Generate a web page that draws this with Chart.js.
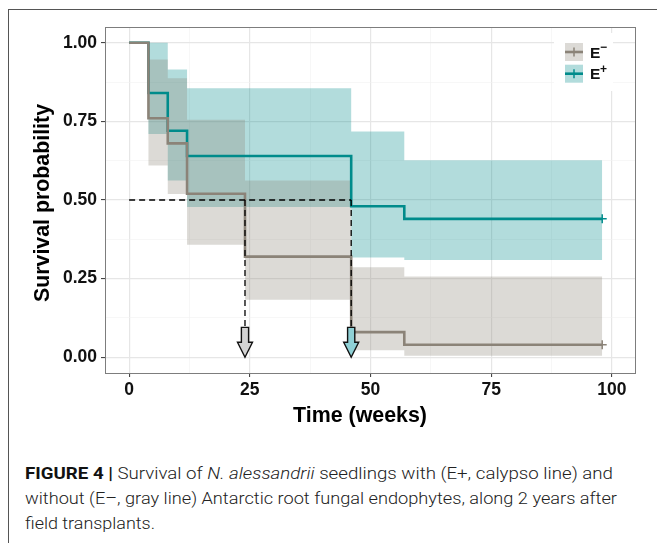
<!DOCTYPE html>
<html>
<head>
<meta charset="utf-8">
<script src="https://cdn.jsdelivr.net/npm/chart.js@4.4.1/dist/chart.umd.min.js"></script>
<style>
  html, body { margin: 0; padding: 0; background: #fff; }
  body { width: 657px; height: 543px; position: relative; overflow: hidden; font-family: "Liberation Sans", Arial, sans-serif; }
  #frame { position: absolute; left: 8px; top: 9px; width: 700px; height: 600px; border-left: 1px solid #555; border-top: 1px solid #555; }
  #c { position: absolute; left: 0; top: 0; }
  .cap { position: absolute; left: 25px; white-space: nowrap; font-family: Roboto, "Liberation Sans", sans-serif; font-weight: 300; font-size: 17px; line-height: 1; color: #222; transform-origin: 0 0; }
  .cap b { color: #111; font-weight: 700; }
</style>
</head>
<body>
<div id="frame"></div>
<canvas id="c" width="657" height="440"></canvas>
<div class="cap" id="l1" data-w="588" style="top:465px"><b>FIGURE 4 |</b> Survival of <i>N. alessandrii</i> seedlings with (E+, calypso line) and</div>
<div class="cap" id="l2" data-w="592" style="top:490px">without (E–, gray line) Antarctic root fungal endophytes, along 2 years after</div>
<div class="cap" id="l3" data-w="130" style="top:515px">field transplants.</div>
<script>
// ---------------- data ----------------
const groupLabels = ['E−', 'E+'];
// E− (gray)
const timesMinus  = [0, 4, 8, 12, 24, 46, 57, 98];
const survMinus   = [1.00, 0.76, 0.68, 0.52, 0.32, 0.08, 0.04, 0.04];
const upperMinus  = [1.00, 0.947, 0.887, 0.755, 0.562, 0.286, 0.257, 0.257];
const lowerMinus  = [1.00, 0.610, 0.519, 0.358, 0.183, 0.022, 0.005, 0.005];
// E+ (teal)
const timesPlus   = [0, 4, 8, 12, 46, 57, 98];
const survPlus    = [1.00, 0.84, 0.72, 0.64, 0.48, 0.44, 0.44];
const upperPlus   = [1.00, 1.00, 0.915, 0.855, 0.718, 0.626, 0.626];
const lowerPlus   = [1.00, 0.710, 0.562, 0.478, 0.317, 0.309, 0.309];
// median survival times (E−, E+)
const medianTimes = [24, 46];
const medianLevel = 0.5;
const arrowTop = 0.095;
// axis ticks
const xTicks = [0, 25, 50, 75, 100];
const yTicks = [0, 0.25, 0.5, 0.75, 1.0];
const xGrid = [0, 12.5, 25, 37.5, 50, 62.5, 75, 87.5, 100];
const yGrid = [0, 0.125, 0.25, 0.375, 0.5, 0.625, 0.75, 0.875, 1.0];

// ---------------- styles ----------------
const grayLine = '#8B8378', tealLine = '#008B8B';
const grayBand = 'rgba(139,131,120,0.3)', tealBand = 'rgba(0,139,139,0.3)';
const arrowFills = ['#d3d3d3', '#8fd0d5'];
const FONT = "'Liberation Sans', Arial, sans-serif";

const pts = (xs, ys) => xs.map((x, i) => ({ x: x, y: ys[i] }));
const near = (arr, v) => arr.some(a => Math.abs(a - v) < 1e-6);

const medianMax = Math.max.apply(null, medianTimes);
const dashed = { borderColor: '#000', borderWidth: 1.3, borderDash: [6, 4], pointRadius: 0, fill: false, tension: 0 };

const datasets = [
  Object.assign({ label: 'median', data: [{ x: 0, y: medianLevel }, { x: medianMax, y: medianLevel }] }, dashed),
  Object.assign({ label: 'medianA', data: [{ x: medianTimes[0], y: medianLevel }, { x: medianTimes[0], y: arrowTop }] }, dashed),
  Object.assign({ label: 'medianB', data: [{ x: medianTimes[1], y: medianLevel }, { x: medianTimes[1], y: arrowTop }] }, dashed),
  { label: groupLabels[0], data: pts(timesMinus, survMinus), stepped: true, borderColor: grayLine, borderWidth: 2.6, fill: false,
    pointStyle: 'cross', pointRadius: c => c.dataIndex === timesMinus.length - 1 ? 4.5 : 0, pointBorderColor: grayLine, pointBorderWidth: 1.5, pointBackgroundColor: grayLine },
  { label: groupLabels[1], data: pts(timesPlus, survPlus), stepped: true, borderColor: tealLine, borderWidth: 2.6, fill: false,
    pointStyle: 'cross', pointRadius: c => c.dataIndex === timesPlus.length - 1 ? 4.5 : 0, pointBorderColor: tealLine, pointBorderWidth: 1.5, pointBackgroundColor: tealLine },
  { label: 'upperMinus', data: pts(timesMinus, upperMinus), stepped: true, borderColor: 'rgba(0,0,0,0)', borderWidth: 0, pointRadius: 0, fill: false },
  { label: 'lowerMinus', data: pts(timesMinus, lowerMinus), stepped: true, borderColor: 'rgba(0,0,0,0)', borderWidth: 0, pointRadius: 0, fill: '-1', backgroundColor: grayBand },
  { label: 'upperPlus', data: pts(timesPlus, upperPlus), stepped: true, borderColor: 'rgba(0,0,0,0)', borderWidth: 0, pointRadius: 0, fill: false },
  { label: 'lowerPlus', data: pts(timesPlus, lowerPlus), stepped: true, borderColor: 'rgba(0,0,0,0)', borderWidth: 0, pointRadius: 0, fill: '-1', backgroundColor: tealBand }
];

function fitText(ctx, text, x, y, width) {
  const w = ctx.measureText(text).width;
  ctx.save();
  ctx.translate(x, y);
  ctx.scale(width / w, 1);
  ctx.fillText(text, 0, 0);
  ctx.restore();
}

const decorPlugin = {
  id: 'decor',
  afterDatasetsDraw(chart) {
    const ctx = chart.ctx, xs = chart.scales.x, ys = chart.scales.y, a = chart.chartArea;
    ctx.save();
    // arrows at median times
    medianTimes.forEach((t, i) => {
      const x = xs.getPixelForValue(t), yt = ys.getPixelForValue(arrowTop), yb = ys.getPixelForValue(0);
      const hh = 15, sw = 3.6, hw = 7.5;
      ctx.beginPath();
      ctx.moveTo(x - sw, yt); ctx.lineTo(x + sw, yt); ctx.lineTo(x + sw, yb - hh); ctx.lineTo(x + hw, yb - hh);
      ctx.lineTo(x, yb); ctx.lineTo(x - hw, yb - hh); ctx.lineTo(x - sw, yb - hh); ctx.closePath();
      ctx.fillStyle = arrowFills[i]; ctx.fill();
      ctx.lineWidth = 1.4; ctx.strokeStyle = '#111'; ctx.lineJoin = 'miter'; ctx.stroke();
    });
    // panel border
    ctx.strokeStyle = '#7d7d7d'; ctx.lineWidth = 1;
    ctx.strokeRect(Math.round(a.left) + 0.5, Math.round(a.top) + 0.5, Math.round(a.right - a.left) - 1, Math.round(a.bottom - a.top));
    ctx.restore();
  },
  afterDraw(chart) {
    const ctx = chart.ctx, a = chart.chartArea;
    ctx.save();
    // legend
    const lx = a.right - 71, ly = a.top + 14;
    ctx.fillStyle = '#fff';
    ctx.fillRect(lx - 11, ly - 8, 59, 58);
    const lineCols = [grayLine, tealLine], bandCols = [grayBand, tealBand], sups = ['−', '+'];
    for (let i = 0; i < 2; i++) {
      const ky = ly + 2 + i * 21.7;
      ctx.fillStyle = '#fff'; ctx.fillRect(lx, ky, 18, 18);
      ctx.fillStyle = bandCols[i]; ctx.fillRect(lx, ky, 18, 18);
      ctx.strokeStyle = lineCols[i]; ctx.lineWidth = 2.6;
      ctx.beginPath(); ctx.moveTo(lx, ky + 9); ctx.lineTo(lx + 18, ky + 9); ctx.stroke();
      ctx.lineWidth = 1.5;
      ctx.beginPath(); ctx.moveTo(lx + 9, ky + 4.5); ctx.lineTo(lx + 9, ky + 13.5); ctx.stroke();
      ctx.fillStyle = '#111';
      ctx.textAlign = 'left'; ctx.textBaseline = 'alphabetic';
      ctx.font = 'bold 15.5px ' + FONT;
      ctx.fillText('E', lx + 25, ky + 14.5);
      ctx.font = 'bold 12px ' + FONT;
      ctx.fillText(sups[i], lx + 35, ky + 8);
    }
    // axis titles
    ctx.fillStyle = '#000';
    ctx.font = 'bold 22px ' + FONT;
    ctx.textAlign = 'left'; ctx.textBaseline = 'alphabetic';
    fitText(ctx, 'Time (weeks)', 293, 422, 134);
    ctx.save();
    ctx.translate(49, 302);
    ctx.rotate(-Math.PI / 2);
    fitText(ctx, 'Survival probability', 0, 0, 198);
    ctx.restore();
    ctx.restore();
  }
};

const tickFont = { family: FONT, size: 17.5, weight: 'bold' };

new Chart(document.getElementById('c'), {
  type: 'line',
  data: { datasets: datasets },
  options: {
    responsive: false,
    animation: false,
    devicePixelRatio: 1,
    layout: { padding: { top: 27, right: 21, left: 0, bottom: 0 } },
    plugins: {
      legend: { display: false },
      tooltip: { enabled: false },
      filler: { drawTime: 'beforeDatasetsDraw', propagate: false }
    },
    scales: {
      x: {
        type: 'linear', min: -5, max: 105,
        afterFit: s => { s.height = 67; },
        afterBuildTicks: s => { s.ticks = xGrid.map(v => ({ value: v })); },
        ticks: { autoSkip: false, maxRotation: 0, minRotation: 0, font: tickFont, color: '#111', padding: 3,
          callback: v => near(xTicks, v) ? String(Math.round(v)) : '' },
        grid: { color: c => near(xTicks, c.tick.value) ? '#e6e6e6' : '#f2f2f2',
                lineWidth: c => near(xTicks, c.tick.value) ? 1.2 : 0.6,
                tickLength: 4, tickWidth: 1,
                tickColor: c => near(xTicks, c.tick.value) ? '#333' : 'rgba(0,0,0,0)' },
        border: { display: false }
      },
      y: {
        type: 'linear', min: -0.05, max: 1.05,
        afterFit: s => { s.width = 105; },
        afterBuildTicks: s => { s.ticks = yGrid.map(v => ({ value: v })); },
        ticks: { autoSkip: false, font: tickFont, color: '#111', padding: 4,
          callback: v => near(yTicks, v) ? v.toFixed(2) : '' },
        grid: { color: c => near(yTicks, c.tick.value) ? '#e6e6e6' : '#f2f2f2',
                lineWidth: c => near(yTicks, c.tick.value) ? 1.2 : 0.6,
                tickLength: 4, tickWidth: 1,
                tickColor: c => near(yTicks, c.tick.value) ? '#333' : 'rgba(0,0,0,0)' },
        border: { display: false }
      }
    }
  },
  plugins: [decorPlugin]
});

// caption lines fitted to the reference widths
document.querySelectorAll('.cap').forEach(el => {
  const w = el.getBoundingClientRect().width;
  el.style.transform = 'scaleX(' + (parseFloat(el.dataset.w) / w) + ')';
});
</script>
</body>
</html>
